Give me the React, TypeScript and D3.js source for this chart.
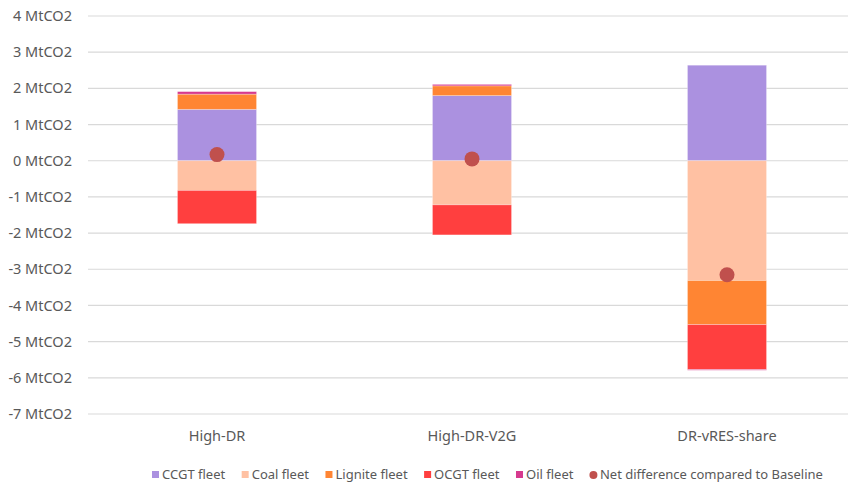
import React from 'react';
import * as d3 from 'd3';

// scenarios on the x axis
const categories = ['High-DR', 'High-DR-V2G', 'DR-vRES-share'];

// change in emissions per fleet (MtCO2)
const ccgt = [1.42, 1.8, 2.64];
const coal = [-0.82, -1.22, -3.31];
const lignite = [0.42, 0.27, -1.22];
const ocgt = [-0.92, -0.83, -1.24];
const oil = [0.07, 0.04, -0.02];
const netDiff = [0.17, 0.05, -3.15];

const yTicks = [4, 3, 2, 1, 0, -1, -2, -3, -4, -5, -6, -7];

const seriesNames = ['CCGT fleet', 'Coal fleet', 'Lignite fleet', 'OCGT fleet', 'Oil fleet'];
const seriesColors = ['#AB91E0', '#FFC1A3', '#FF8533', '#FF3F3F', '#D63A8E'];
const netName = 'Net difference compared to Baseline';
const netColor = '#C0504D';

const W = 848;
const H = 486;
const FONT = '"Noto Sans", "DejaVu Sans", sans-serif';
const TEXT = '#595959';

export default function App() {
  const ref = React.useRef<SVGSVGElement>(null);

  React.useEffect(() => {
    const svg = d3.select(ref.current);
    svg.selectAll('*').remove();

    const rows = categories.map((c, i) => ({
      cat: c,
      s0: ccgt[i],
      s1: coal[i],
      s2: lignite[i],
      s3: ocgt[i],
      s4: oil[i],
    }));
    const keys = ['s0', 's1', 's2', 's3', 's4'];

    const x = d3
      .scaleBand()
      .domain(categories)
      .range([89.5, 854.5])
      .paddingInner(0.69)
      .paddingOuter(0.345);

    const y = d3.scaleLinear().domain([-7, 4]).range([414, 16]);

    // gridlines
    svg
      .append('g')
      .selectAll('line')
      .data(yTicks)
      .join('line')
      .attr('x1', 88)
      .attr('x2', W)
      .attr('y1', (d) => y(d))
      .attr('y2', (d) => y(d))
      .attr('stroke', '#D9D9D9')
      .attr('stroke-width', 1.2);

    // y labels
    svg
      .append('g')
      .selectAll('text')
      .data(yTicks)
      .join('text')
      .attr('x', 72)
      .attr('y', (d) => y(d))
      .attr('dy', '0.35em')
      .attr('text-anchor', 'end')
      .attr('font-family', FONT)
      .attr('font-size', 14.5)
      .attr('fill', TEXT)
      .text((d) => `${d} MtCO2`);

    // x labels
    svg
      .append('g')
      .selectAll('text')
      .data(categories)
      .join('text')
      .attr('x', (d) => x(d)! + x.bandwidth() / 2)
      .attr('y', 436)
      .attr('dy', '0.35em')
      .attr('text-anchor', 'middle')
      .attr('font-family', FONT)
      .attr('font-size', 14.5)
      .attr('fill', TEXT)
      .text((d) => d);

    // stacked bars
    const stacked = d3.stack().keys(keys).offset(d3.stackOffsetDiverging)(rows as any);
    svg
      .append('g')
      .selectAll('g')
      .data(stacked)
      .join('g')
      .attr('fill', (_d, i) => seriesColors[i])
      .selectAll('rect')
      .data((d: any) => d)
      .join('rect')
      .attr('x', (d: any) => x(d.data.cat)!)
      .attr('width', x.bandwidth())
      .attr('y', (d: any) => y(Math.max(d[0], d[1])))
      .attr('height', (d: any) => Math.abs(y(d[0]) - y(d[1])))
      .attr('stroke', 'rgba(255,255,255,0.35)')
      .attr('stroke-width', 0.8);

    // net difference markers
    svg
      .append('g')
      .selectAll('circle')
      .data(netDiff)
      .join('circle')
      .attr('cx', (_d, i) => x(categories[i])! + x.bandwidth() / 2)
      .attr('cy', (d) => y(d))
      .attr('r', 7.5)
      .attr('fill', netColor);

    // legend
    const legend = svg.append('g').attr('transform', 'translate(152,474)');
    let lx = 0;
    const items = seriesNames.map((n, i) => ({ name: n, color: seriesColors[i], dot: false }));
    items.push({ name: netName, color: netColor, dot: true });
    items.forEach((it) => {
      const g = legend.append('g').attr('transform', `translate(${lx},0)`);
      if (it.dot) {
        g.append('circle').attr('cx', 3.5).attr('cy', 1).attr('r', 4).attr('fill', it.color);
      } else {
        g.append('rect').attr('x', 0).attr('y', -3).attr('width', 7).attr('height', 7).attr('fill', it.color);
      }
      const t = g
        .append('text')
        .attr('x', 10)
        .attr('y', 0)
        .attr('dy', '0.35em')
        .attr('font-family', FONT)
        .attr('font-size', 13)
        .attr('fill', TEXT)
        .text(it.name);
      const w = (t.node() as SVGTextElement).getComputedTextLength();
      lx += 10 + w + 16.5;
    });
  }, []);

  return (
    <svg
      ref={ref}
      width={W}
      height={H}
      style={{ position: 'fixed', left: 0, top: 0, background: '#fff' }}
    />
  );
}
